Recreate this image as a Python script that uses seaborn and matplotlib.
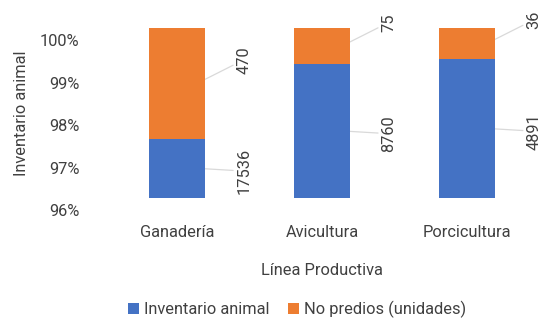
import matplotlib
matplotlib.use("Agg")
import matplotlib.pyplot as plt
import matplotlib.transforms as mtransforms
import seaborn as sns
import pandas as pd
import numpy as np

categories = ["Ganadería", "Avicultura", "Porcicultura"]
inventario = [17536, 8760, 4891]
predios = [470, 75, 36]
y_ticks = [96, 97, 98, 99, 100]
y_tick_labels = ["96%", "97%", "98%", "99%", "100%"]

BLUE = "#4472C4"
ORANGE = "#ED7D31"
TXT = "#404040"

sns.set_theme(style="white")
plt.rcParams["font.family"] = ["Roboto", "DejaVu Sans"]
plt.rcParams["text.color"] = TXT

inv = np.array(inventario, dtype=float)
pre = np.array(predios, dtype=float)
total = inv + pre
df = pd.DataFrame({
    "cat": categories,
    "inv_share": inv / total * 100,
    "total_share": total / total * 100,
})

fig = plt.figure(figsize=(5.42, 3.18), dpi=100)
ax = fig.add_axes([0.193, 0.378, 0.802, 0.534])

sns.barplot(data=df, x="cat", y="total_share", color=ORANGE, saturation=1,
            width=0.386, ax=ax, label="No predios (unidades)", linewidth=0)
sns.barplot(data=df, x="cat", y="inv_share", color=BLUE, saturation=1,
            width=0.386, ax=ax, label="Inventario animal", linewidth=0)

ax.set_xlim(-0.5, 2.5)
ax.set_ylim(96, 100)
ax.set_yticks(y_ticks)
ax.set_yticklabels(y_tick_labels)
for s in ax.spines.values():
    s.set_visible(False)
ax.tick_params(axis="both", length=0, labelsize=11.8, colors=TXT)
ax.tick_params(axis="y", pad=18)
ax.tick_params(axis="x", pad=19.5)

# Offset y tick labels downward as in reference
off = mtransforms.ScaledTranslation(0, -12.5 / 100, fig.dpi_scale_trans)
for lab in ax.get_yticklabels():
    lab.set_transform(lab.get_transform() + off)

ax.set_ylabel("Inventario animal", fontsize=11.8, color=TXT, labelpad=8)
ax.set_xlabel("Línea Productiva", fontsize=11.8, color=TXT, labelpad=17)

# data labels with leader lines
half = 0.386 / 2
lead = dict(arrowstyle="-", color="#D9D9D9", lw=0.9, shrinkA=0, shrinkB=2,
            connectionstyle="arc,angleA=0,angleB=180,armA=0,armB=8,rad=0")
for i in range(len(categories)):
    share = inv[i] / total[i] * 100
    yc = (96 + share) / 2
    ax.annotate(f"{inventario[i]}", xy=(i + half, yc), xytext=(28, -2),
                textcoords="offset points", rotation=90, ha="center", va="center",
                fontsize=11.8, color=TXT, arrowprops=lead, zorder=0.5)
    yo = (share + 100) / 2
    ax.annotate(f"{predios[i]}", xy=(i + half, yo), xytext=(28, 17),
                textcoords="offset points", rotation=90, ha="center", va="center",
                fontsize=11.8, color=TXT, arrowprops=lead, zorder=0.5)

handles, labels = ax.get_legend_handles_labels()
order = [labels.index("Inventario animal"), labels.index("No predios (unidades)")]
ax.legend([handles[k] for k in order], [labels[k] for k in order],
          loc="lower center", bbox_to_anchor=(0.548, -0.046), bbox_transform=fig.transFigure,
          ncol=2, frameon=False, fontsize=11.8, handlelength=0.7, handleheight=0.7,
          handletextpad=0.3, columnspacing=1.1)

fig.savefig("out.png", dpi=100)
